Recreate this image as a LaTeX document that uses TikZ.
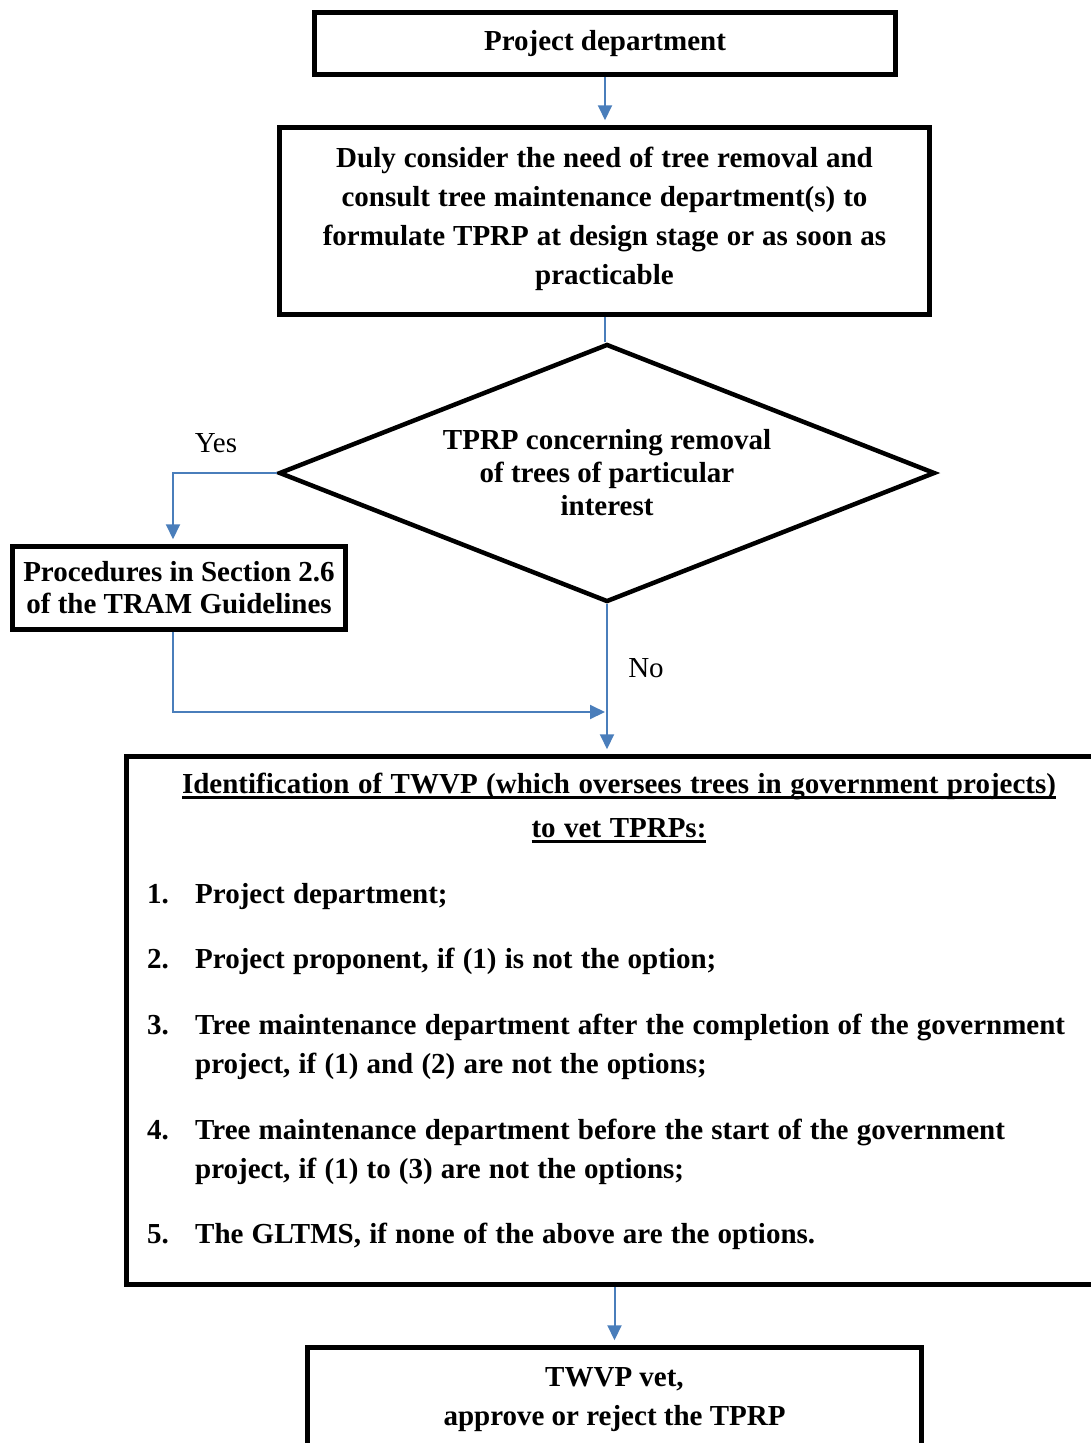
\documentclass[tikz,border=0pt]{standalone}
\usepackage{fontspec}
\setmainfont{Liberation Serif}
\newsavebox{\headbox}
\newcommand{\headuline}[1]{\sbox{\headbox}{#1}\rlap{\rule[-6pt]{\wd\headbox}{3.5pt}}\usebox{\headbox}}
\newcommand{\wordgap}[1]{\spaceskip #1\relax}
\definecolor{colarrow}{RGB}{74,126,187}
\usetikzlibrary{
	arrows.meta,
	shapes.geometric
}
\tikzset{
	>={Triangle[width=14pt,length=15pt]},
	flowline/.style={line width=2pt, draw=colarrow},
	flowarrow/.style={->, line width=2pt, draw=colarrow, shorten >=5pt},
	flowbox/.style={draw, line width=4.5pt, inner sep=0pt, align=center, font=\fontsize{29}{39}\selectfont\bfseries},
	decision/.style={diamond, draw, line width=4.5pt, inner sep=0pt, aspect=2.54, align=center, font=\fontsize{29}{33}\selectfont\bfseries},
	headtext/.style={inner sep=0pt, align=center, font=\fontsize{29}{44}\selectfont\bfseries\wordgap{8.5pt}},
	listnum/.style={anchor=base west, inner sep=0pt, font=\fontsize{29}{39}\selectfont\bfseries},
	listitem/.style={anchor=base west, inner sep=0pt, text width=890pt, align=left, font=\fontsize{29}{39}\selectfont\bfseries, execute at begin node={\wordgap{8.2pt}}},
	branchlabel/.style={inner sep=0pt, font=\fontsize{29}{35}\selectfont}
}

\begin{document}
\begin{tikzpicture}[x=1pt, y=-1pt]
	\useasboundingbox (0,0) rectangle (1090,1443);
	\node[flowbox, minimum width=581pt, minimum height=62pt] (proj) at (605,43.5) {Project department};
	\node[flowbox, minimum width=650pt, minimum height=187pt, font=\fontsize{29}{39}\selectfont\bfseries\wordgap{8pt}] (duly) at (604.5,221) {Duly consider the need of tree removal and\\consult tree maintenance department(s) to\\formulate TPRP at design stage or as soon as\\practicable\\[-29pt]};
	\node[decision, minimum width=656pt, minimum height=258pt] (dec) at (607,473) {TPRP concerning removal\\of trees of particular\\interest};
	\node[flowbox, minimum width=333pt, minimum height=83pt, font=\fontsize{29}{32}\selectfont\bfseries] (proc) at (179,588) {Procedures in Section 2.6\\of the TRAM Guidelines};
	\node[flowbox, minimum width=1000pt, minimum height=528pt] (twvp) at (626.5,1020.5) {};
	\node[flowbox, minimum width=614pt, minimum height=104pt] (vet) at (614.5,1399.5) {TWVP vet,\\approve or reject the TPRP};
	% list inside the TWVP box
	\node[headtext] (twvphead) at (619,808) {\headuline{Identification of TWVP (which oversees trees in government projects)}\\\headuline{to vet TPRPs:}};
	\foreach \num/\ybase/\itemtext in {
		1/903/{Project department;},
		2/968/{Project proponent, if (1) is not the option;},
		3/1034/{Tree maintenance department after the completion of the government\\project, if (1) and (2) are not the options;},
		4/1139/{Tree maintenance department before the start of the government\\project, if (1) to (3) are not the options;},
		5/1243/{The GLTMS, if none of the above are the options.}} {
		\node[listnum] (num\num) at (147,\ybase) {\num.};
		\node[listitem] (item\num) at (195,\ybase) {\itemtext};
	}
	% connectors
	\coordinate (merge) at (608,712);
	\draw[flowarrow] (proj.south) -- (proj.south |- duly.north);
	\draw[flowline] (duly.south) -- (duly.south |- dec.north);
	\draw[flowarrow] (dec.west) -| ([xshift=-6pt]proc.north);
	\draw[flowarrow] (dec.south) -- (dec.south |- twvp.north);
	\draw[flowarrow, shorten >=3pt] ([xshift=-6pt]proc.south) |- (merge);
	\draw[flowarrow] (vet.north |- twvp.south) -- (vet.north);
	\node[branchlabel] (yes) at (216,443) {Yes};
	\node[branchlabel] (no) at (646,668) {No};
\end{tikzpicture}
\end{document}
